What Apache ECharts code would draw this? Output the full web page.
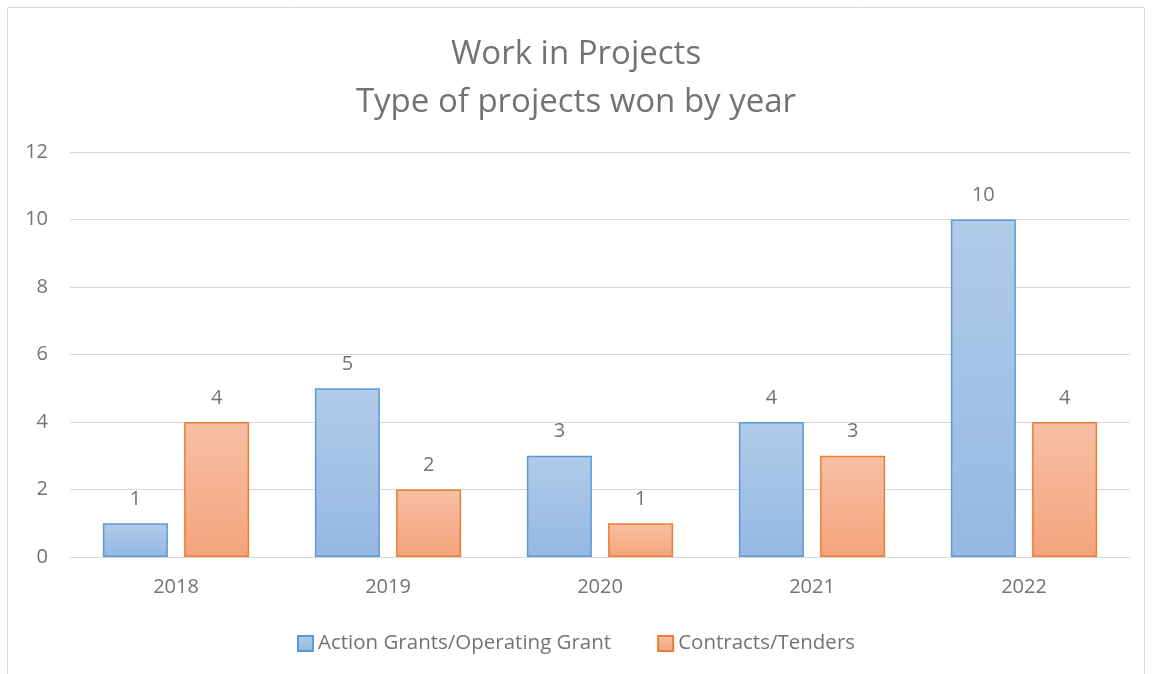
<!DOCTYPE html>
<html><head><meta charset="utf-8">
<script src="https://cdn.jsdelivr.net/npm/echarts@6/dist/echarts.min.js"></script>
<style>html,body{margin:0;padding:0;background:#fff;}#c{width:1152px;height:674px;}</style>
</head><body><div id="c"></div>
<script>
const categories = ['2018','2019','2020','2021','2022'];
const grants = [1,5,3,4,10];
const contracts = [4,2,1,3,4];
const seriesNames = ['Action Grants/Operating Grant','Contracts/Tenders'];
const yTicks = [0,2,4,6,8,10,12];

const font = 'Open Sans';
const txt = '#737373';
const grad = (a,b)=>new echarts.graphic.LinearGradient(0,0,0,1,[{offset:0,color:a},{offset:1,color:b}]);
const chart = echarts.init(document.getElementById('c'));
chart.setOption({
  animation:false,
  backgroundColor:'#fff',
  graphic:[{type:'rect',shape:{x:7.5,y:7.5,width:1137,height:700},style:{fill:null,stroke:'#d9d9d9',lineWidth:1},silent:true}],
  title:{text:'Work in Projects\nType of projects won by year',left:'center',top:26,
    textStyle:{fontFamily:font,fontSize:33,fontWeight:'normal',color:txt,lineHeight:48}},
  legend:{top:628,left:'center',itemWidth:15,itemHeight:15,itemGap:46,icon:'rect',
    textStyle:{fontFamily:font,fontSize:20.5,color:txt},data:seriesNames},
  grid:{left:70,right:22,top:152,bottom:117},
  xAxis:{type:'category',data:categories,axisTick:{show:false},
    axisLine:{lineStyle:{color:'#d9d9d9',width:1}},
    axisLabel:{fontFamily:font,fontSize:20,color:txt,margin:20}},
  yAxis:{type:'value',min:0,max:12,interval:2,
    axisLabel:{fontFamily:font,fontSize:20,color:txt,margin:22,formatter:v=>yTicks.includes(v)?String(v):''},
    splitLine:{lineStyle:{color:'#d9d9d9',width:1}},axisLine:{show:false},axisTick:{show:false}},
  series:[
    {name:seriesNames[0],type:'bar',data:grants,barGap:'25%',barCategoryGap:'31%',
     itemStyle:{color:grad('#b1cbe9','#94b8e3'),borderColor:'#5b9bd5',borderWidth:1.5},
     label:{show:true,position:'top',distance:14,fontFamily:font,fontSize:20,color:txt}},
    {name:seriesNames[1],type:'bar',data:contracts,
     itemStyle:{color:grad('#f7bfa5','#f5a47c'),borderColor:'#ed7d31',borderWidth:1.5},
     label:{show:true,position:'top',distance:14,fontFamily:font,fontSize:20,color:txt}}
  ]
});
</script></body></html>
